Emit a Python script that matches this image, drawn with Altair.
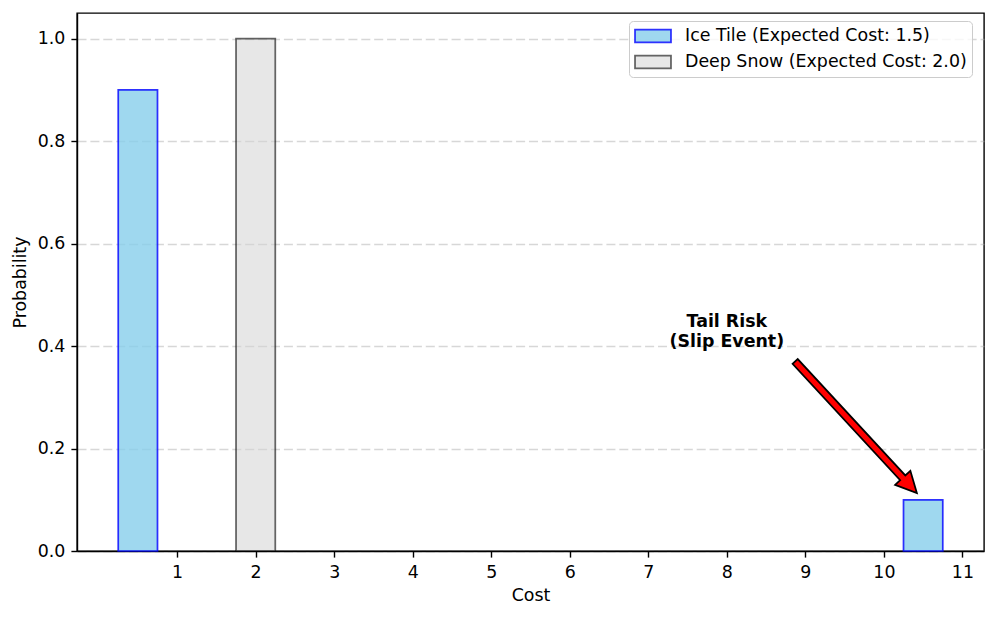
import math
import altair as alt
import pandas as pd

# ---- data ----
series = ["Ice Tile (Expected Cost: 1.5)", "Ice Tile (Expected Cost: 1.5)", "Deep Snow (Expected Cost: 2.0)"]
costs = [0.5, 10.5, 2.0]
probs = [0.9, 0.1, 1.0]
legend_order = ["Ice Tile (Expected Cost: 1.5)", "Deep Snow (Expected Cost: 2.0)"]

x_ticks = [1, 2, 3, 4, 5, 6, 7, 8, 9, 10, 11]
y_ticks = [0.0, 0.2, 0.4, 0.6, 0.8, 1.0]

annot_text = ["Tail Risk", "(Slip Event)"]
annot_pos = (8.0, 0.4)
arrow_tail = (8.87, 0.37)
arrow_tip = (10.42, 0.113)

# ---- layout / style ----
W, H = 907, 538
X_DOM = [-0.275, 11.275]
Y_DOM = [0.0, 1.05]
BAR_W = 0.5
FS = 17.4
FONT = "DejaVu Sans"

df = pd.DataFrame({"series": series, "cost": costs, "prob": probs})

xs = alt.Scale(domain=X_DOM, nice=False, zero=False)
ys = alt.Scale(domain=Y_DOM, nice=False, zero=False)

fill_scale = alt.Scale(domain=legend_order,
                       range=["rgba(135,206,235,0.8)", "rgba(211,211,211,0.55)"])
stroke_scale = alt.Scale(domain=legend_order,
                         range=["rgba(0,0,255,0.8)", "rgba(0,0,0,0.6)"])

legend_shape = "M -2 -0.7 L 2 -0.7 L 2 0.7 L -2 0.7 Z"
leg = dict(title=None, orient="none", legendX=552, legendY=8,
           symbolType=legend_shape, symbolSize=324, symbolStrokeWidth=1.74,
           symbolOffset=9,
           labelFontSize=FS, labelFont=FONT, labelColor="black", labelOffset=22,
           labelLimit=500, padding=5, strokeColor="#cccccc",
           fillColor="rgba(255,255,255,0.8)", cornerRadius=4, rowPadding=6)

bars = alt.Chart(df).transform_calculate(
    lo=f"datum.cost - {BAR_W / 2}", hi=f"datum.cost + {BAR_W / 2}", base="0"
).mark_rect(strokeWidth=1.74).encode(
    x=alt.X("lo:Q", scale=xs,
            axis=alt.Axis(title="Cost", values=x_ticks, format="d", grid=False,
                          labelPadding=6, titlePadding=6)),
    x2="hi:Q",
    y=alt.Y("base:Q", scale=ys,
            axis=alt.Axis(title="Probability", values=y_ticks, format=".1f",
                          grid=True, gridDash=[9, 3.9], gridColor="#b0b0b0",
                          gridOpacity=0.5, gridWidth=1.4,
                          labelPadding=6, titlePadding=8)),
    y2="prob:Q",
    fill=alt.Fill("series:N", scale=fill_scale, legend=alt.Legend(**leg)),
    stroke=alt.Stroke("series:N", scale=stroke_scale, legend=alt.Legend(**leg)),
)

# annotation text
tdf = pd.DataFrame({"x": [annot_pos[0]], "y": [annot_pos[1]], "t": ["\n".join(annot_text)]})
text = alt.Chart(tdf).mark_text(
    fontWeight="bold", fontSize=FS, font=FONT, align="center", baseline="bottom",
    lineBreak="\n", lineHeight=20, color="black", dy=-15
).encode(x=alt.X("x:Q", scale=xs), y=alt.Y("y:Q", scale=ys), text="t:N")

# arrow as a custom symbol anchored at the tip (shape in pixel units, size=4 -> scale 1)
kx = W / (X_DOM[1] - X_DOM[0])
ky = H / (Y_DOM[1] - Y_DOM[0])
dxp = (arrow_tip[0] - arrow_tail[0]) * kx
dyp = -(arrow_tip[1] - arrow_tail[1]) * ky
L = math.hypot(dxp, dyp)
ang = math.degrees(math.atan2(dyp, dxp)) % 360
hl, hw, sw = 20.8, 10.4, 3.5
arrow_path = (f"M 0 0 L {-hl} {-hw} L {-hl} {-sw} L {-L:.2f} {-sw} L {-L:.2f} {sw} "
              f"L {-hl} {sw} L {-hl} {hw} Z")
adf = pd.DataFrame({"x": [arrow_tip[0]], "y": [arrow_tip[1]]})
arrow = alt.Chart(adf).mark_point(
    shape=arrow_path, size=4, angle=ang, filled=True, fill="red", stroke="black",
    strokeWidth=1.74, opacity=1, fillOpacity=1, strokeOpacity=1, strokeJoin="miter"
).encode(x=alt.X("x:Q", scale=xs), y=alt.Y("y:Q", scale=ys))

chart = alt.layer(bars, text, arrow).properties(
    width=W, height=H,
    autosize=alt.AutoSizeParams(type="none"),
    padding={"left": 69, "top": 5, "right": 5, "bottom": 58},
).configure_view(
    stroke="black", strokeWidth=1.4
).configure_axis(
    domainColor="black", domainWidth=1.4, tickColor="black", tickWidth=1.4,
    tickSize=6.1, labelFontSize=FS, labelFont=FONT, labelColor="black",
    titleFontSize=FS, titleFont=FONT, titleFontWeight="normal", titleColor="black"
)

chart.save("out.html", embed_options={"renderer": "svg", "actions": False})
